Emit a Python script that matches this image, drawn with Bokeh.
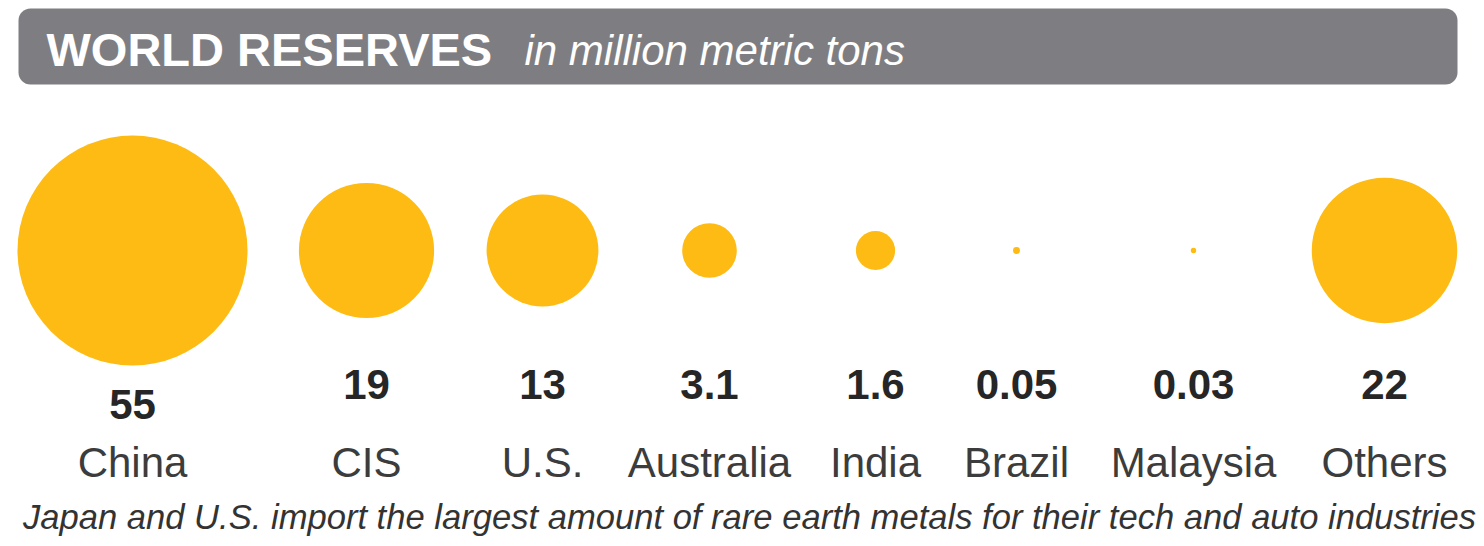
import numpy as np
from bokeh.plotting import figure
from bokeh.models import Range1d, ColumnDataSource
from bokeh.core.properties import value
from bokeh.embed import file_html
from bokeh.resources import INLINE

# World rare earth reserves, million metric tons
countries = ["China", "CIS", "U.S.", "Australia", "India", "Brazil", "Malaysia", "Others"]
reserves = [55, 19, 13, 3.1, 1.6, 0.05, 0.03, 22]
reserve_labels = ["55", "19", "13", "3.1", "1.6", "0.05", "0.03", "22"]

title = "WORLD RESERVES"
subtitle = "in million metric tons"
footnote = "Japan and U.S. import the largest amount of rare earth metals for their tech and auto industries"

# layout (pixel space); text y values are the text anchor positions
W, H = 1484, 546
col_x = [132, 366, 542, 709, 875, 1016, 1193, 1384]
row_y = 250
name_y = 462
max_radius = 115

GOLD = "#fdbb14"
GREY = "#7e7e82"
FONT = "Liberation Sans"

p = figure(width=W, height=H, x_range=Range1d(0, W), y_range=Range1d(H, 0),
           output_backend="svg", toolbar_location=None, min_border=0,
           background_fill_color="white", border_fill_color="white")
p.outline_line_color = None
p.xaxis.visible = False
p.yaxis.visible = False
p.xgrid.visible = False
p.ygrid.visible = False

# header band
p.quad(left=18, right=1457, top=8, bottom=84, fill_color=GREY, line_color=None,
       border_radius=12)
p.text(x=[46], y=[49], text=[title], text_color="white", text_font=value(FONT),
       text_font_size="47px", text_font_style="bold", text_align="left",
       text_baseline="alphabetic")
p.text(x=[524], y=[50], text=[subtitle], text_color="white", text_font=value(FONT),
       text_font_size="42px", text_font_style="italic", text_align="left",
       text_baseline="alphabetic")

# circles with area proportional to reserves
k = max_radius / np.sqrt(max(reserves))
radii = k * np.sqrt(np.array(reserves, dtype=float))
value_y = np.maximum(384, row_y + radii + 39)

src = ColumnDataSource(dict(x=col_x, y=[row_y] * len(col_x), r=radii,
                            vy=value_y, ny=[name_y] * len(col_x),
                            vlab=reserve_labels, name=countries))

p.circle(x="x", y="y", radius="r", source=src, fill_color=GOLD, line_color=None)

p.text(x="x", y="vy", text="vlab", source=src, text_color="#262626",
       text_font=value(FONT), text_font_size="42px", text_font_style="bold",
       text_align="center", text_baseline="alphabetic")

p.text(x="x", y="ny", text="name", source=src, text_color="#3c3c3c",
       text_font=value(FONT), text_font_size="42px", text_align="center",
       text_baseline="alphabetic")

p.text(x=[749], y=[516], text=[footnote], text_color="#333333", text_font=value(FONT),
       text_font_size="34.6px", text_font_style="italic", text_align="center",
       text_baseline="alphabetic")

open("out.html", "w").write(file_html(p, INLINE))
